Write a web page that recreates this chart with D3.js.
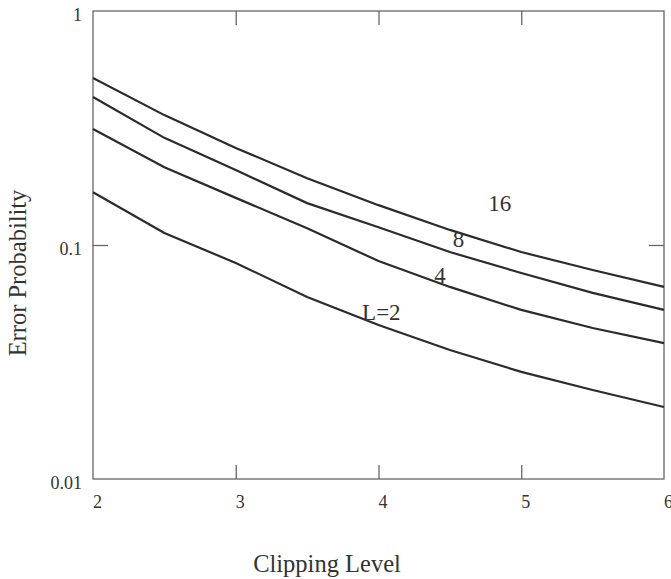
<!DOCTYPE html>
<html>
<head>
<meta charset="utf-8">
<script src="https://cdn.jsdelivr.net/npm/d3@7"></script>
<style>
  body { margin: 0; background: #fff; }
  text { font-family: "Liberation Serif", "Times New Roman", serif; fill: #333; }
</style>
</head>
<body>
<script>
// clipping level on x, error probability per diversity order L
var clipLevels = [2, 2.5, 3, 3.5, 4, 4.5, 5, 5.5, 6];
var errL16 = [0.517, 0.359, 0.260, 0.193, 0.148, 0.116, 0.0933, 0.0782, 0.0662];
var errL8  = [0.429, 0.287, 0.209, 0.151, 0.119, 0.0933, 0.0759, 0.0624, 0.0528];
var errL4  = [0.313, 0.215, 0.159, 0.118, 0.0854, 0.0662, 0.0528, 0.0442, 0.0381];
var errL2  = [0.168, 0.1125, 0.0838, 0.0600, 0.0455, 0.0356, 0.0287, 0.0240, 0.0203];

var curveNames = ["16", "8", "4", "L=2"];
var labelAt = [[4.85, 0.151], [4.56, 0.106], [4.43, 0.0744], [4.02, 0.0517]];

var xTicks = [2, 3, 4, 5, 6];
var yTicks = [0.01, 0.1, 1];
var yTickText = ["0.01", "0.1", "1"];

var W = 671, H = 579;
var svg = d3.select("body").append("svg")
    .attr("width", W)
    .attr("height", H);

var x = d3.scaleLinear().domain([2, 6]).range([93, 664]);
var y = d3.scaleLog().domain([0.01, 1]).range([479, 11]);

// bottom axis, ticks pointing in
var xb = svg.append("g").attr("transform", "translate(0," + y(0.01) + ")")
    .call(d3.axisBottom(x).tickValues(xTicks).tickSizeInner(-14).tickSizeOuter(0).tickPadding(16).tickFormat(d3.format("d")));
xb.selectAll("text").attr("dx", 4).style("font-size", "18px");

// top axis, ticks only
var xt = svg.append("g").attr("transform", "translate(0," + y(1) + ")")
    .call(d3.axisTop(x).tickValues([3, 4, 5]).tickSizeInner(-14).tickSizeOuter(0).tickFormat(""));

// left axis
var yl = svg.append("g").attr("transform", "translate(" + x(2) + ",0)")
    .call(d3.axisLeft(y).tickValues(yTicks).tickSizeInner(-15).tickSizeOuter(0).tickPadding(11)
        .tickFormat(function(d, i){ return yTickText[i]; }));
yl.selectAll("text").attr("dy", "0.55em").style("font-size", "18px");
yl.selectAll(".tick").filter(function(d){ return d != 0.1; }).select("line").remove();

// right axis
var yr = svg.append("g").attr("transform", "translate(" + x(6) + ",0)")
    .call(d3.axisRight(y).tickValues([0.1]).tickSizeInner(-15).tickSizeOuter(0).tickFormat(""));

svg.selectAll(".domain").remove();
svg.selectAll(".tick line").attr("stroke", "#666").attr("stroke-width", 1.3);
xb.selectAll(".tick").filter(function(d){ return d == 2 || d == 6; }).select("line").remove();

// frame
svg.append("rect")
    .attr("x", x(2)).attr("y", y(1))
    .attr("width", x(6) - x(2)).attr("height", y(0.01) - y(1))
    .attr("fill", "none").attr("stroke", "#666").attr("stroke-width", 1.3);

var series = [errL16, errL8, errL4, errL2];
var line = d3.line()
    .x(function(d, i){ return x(clipLevels[i]); })
    .y(function(d){ return y(d); });

svg.selectAll(".curve").data(series).enter().append("path")
    .attr("class", "curve")
    .attr("d", line)
    .attr("fill", "none")
    .attr("stroke", "#2b2b2b")
    .attr("stroke-width", 2.2);

svg.selectAll(".clabel").data(curveNames).enter().append("text")
    .attr("class", "clabel")
    .attr("x", function(d, i){ return x(labelAt[i][0]); })
    .attr("y", function(d, i){ return y(labelAt[i][1]); })
    .attr("dy", "0.35em")
    .attr("text-anchor", "middle")
    .style("font-size", "23px")
    .text(function(d){ return d; });

// axis titles
svg.append("text")
    .attr("x", 327).attr("y", 572)
    .attr("text-anchor", "middle")
    .style("font-size", "24.5px")
    .text("Clipping Level");

svg.append("text")
    .attr("transform", "translate(26,273) rotate(-90)")
    .attr("text-anchor", "middle")
    .style("font-size", "24.5px")
    .text("Error Probability");
</script>
</body>
</html>
